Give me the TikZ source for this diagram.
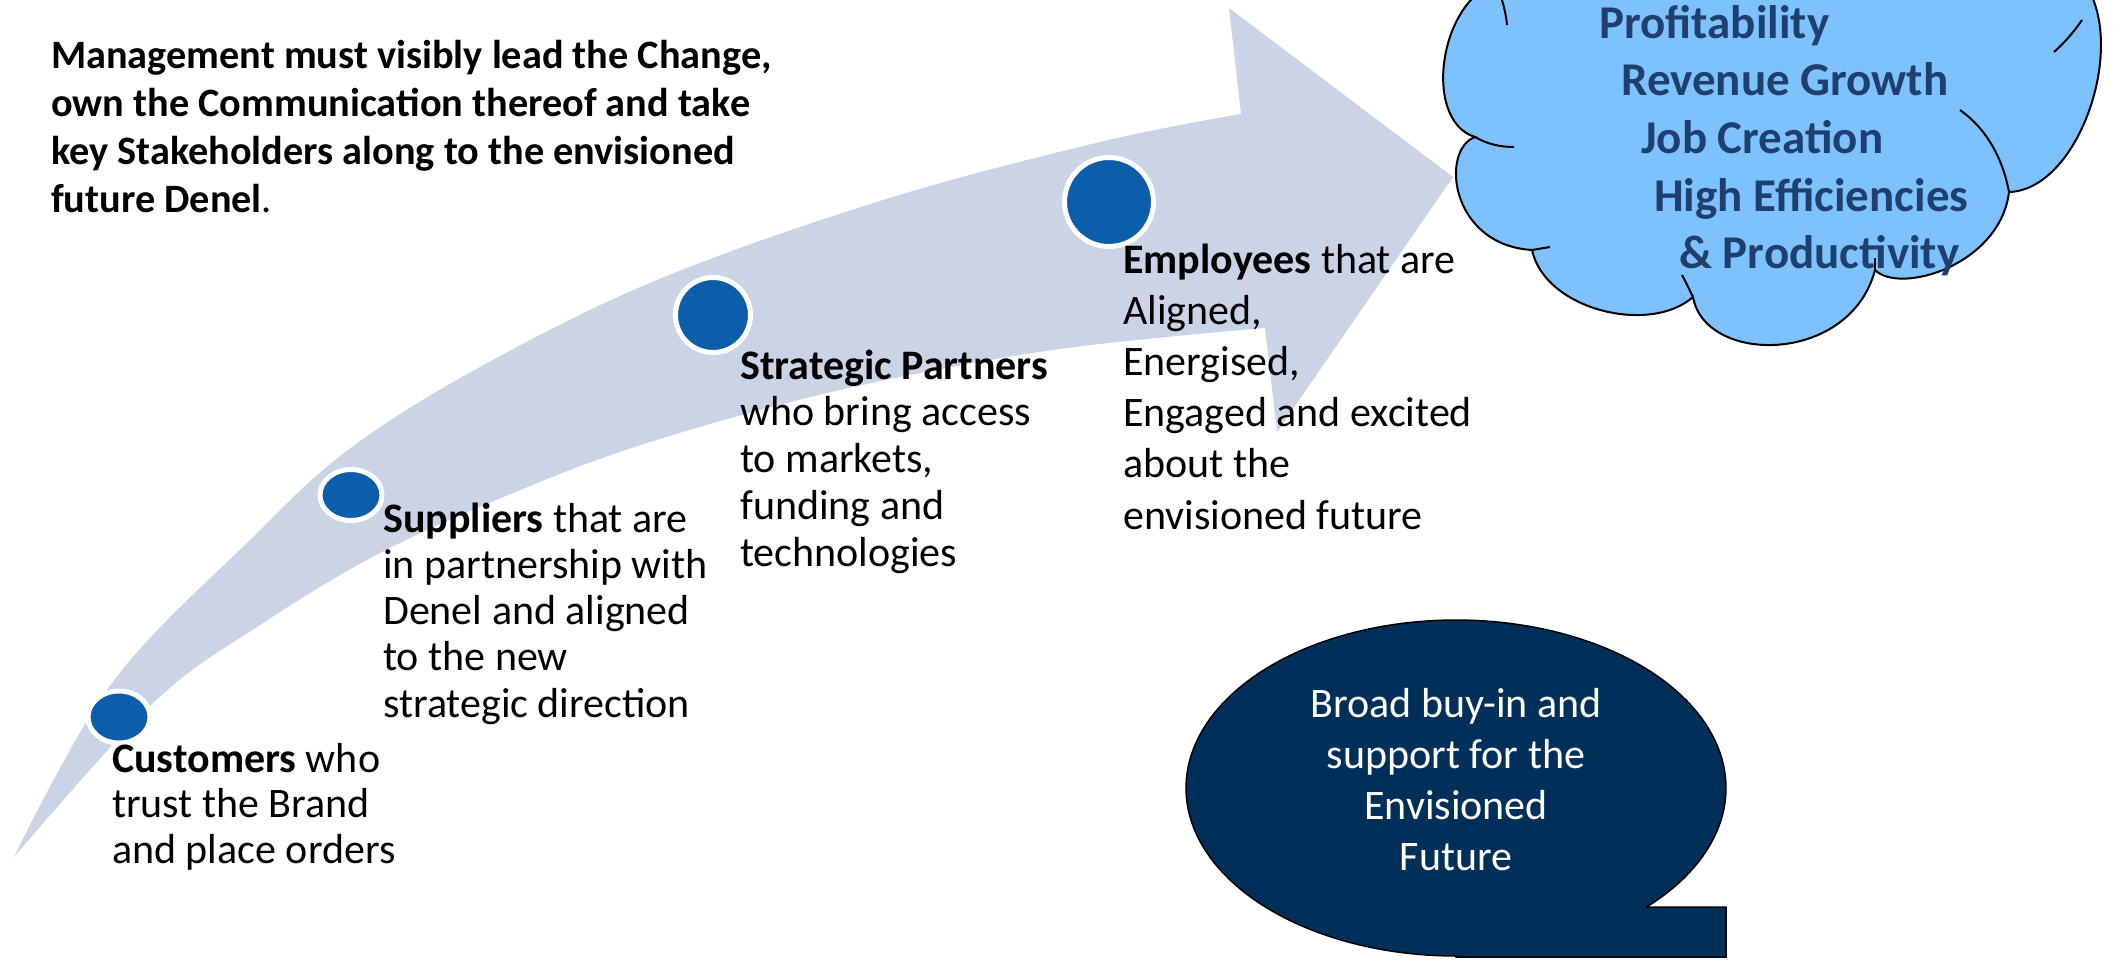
\documentclass[tikz,border=0pt]{standalone}
\usepackage{fontspec}
\setmainfont{Carlito}
\usetikzlibrary{shapes.geometric}
\definecolor{arrowgray}{RGB}{203,211,230}
\definecolor{dotblue}{RGB}{12,93,170}
\definecolor{cloudblue}{RGB}{125,194,254}
\definecolor{cloudtext}{RGB}{31,64,110}
\definecolor{navy}{RGB}{0,47,89}
\newcommand{\blocktext}[3]{\fontsize{#1}{#2}\selectfont\begin{tabular}[t]{@{}l@{}}#3\end{tabular}}
\newcommand{\blocktextc}[3]{\fontsize{#1}{#2}\selectfont\begin{tabular}[t]{@{}c@{}}#3\end{tabular}}
\tikzset{
  dot/.style={ellipse, fill=dotblue, draw=white, line width=5pt, inner sep=0pt},
  txt/.style={inner sep=0pt, anchor=base west},
  cloudline/.style={draw=black, line width=2pt},
}
\begin{document}
\begin{tikzpicture}[x=1pt,y=-1pt]
\useasboundingbox (0,0) rectangle (2113,959);
\fill[white] (0,0) rectangle (2113,959);

% curved arrow
\fill[arrowgray] plot[smooth, tension=0.6] coordinates {(14,857) (112,683) (250,540) (348,450) (480,367) (657,280) (883,200) (1100,142) (1241,114)}
  -- (1229,8) -- (1453,177) -- (1277,432) -- (1265,328)
  -- plot[smooth, tension=0.6] coordinates {(1265,328) (1053,350) (840,390) (647,443) (513,493) (380,553) (260,625) (153,703) (14,857)} -- cycle;

% dots
\node[dot, minimum width=62pt, minimum height=52pt] (cdot) at (119,717) {};
\node[dot, minimum width=62pt, minimum height=51pt] (sdot) at (351,495) {};
\node[dot, minimum width=75pt, minimum height=75pt] (pdot) at (713,315) {};
\node[dot, minimum width=89pt, minimum height=89pt] (edot) at (1109,202) {};

% title
\node[txt] (title) at (51,68) {\blocktext{40.3}{48}{\textbf{Management must visibly lead the Change,}\\\textbf{own the Communication thereof and take}\\\textbf{key Stakeholders along to the envisioned}\\\textbf{future Denel}.}};

% stakeholder texts
\node[txt] (cust) at (112,772) {\blocktext{42}{45.5}{\textbf{Customers} who\\trust the Brand\\and place orders}};
\node[txt] (supp) at (383,532) {\blocktext{42}{46.3}{\textbf{Suppliers} that are\\in partnership with\\Denel and aligned\\to the new\\strategic direction}};
\node[txt] (part) at (740,379) {\blocktext{42}{46.8}{\textbf{Strategic Partners}\\who bring access\\to markets,\\funding and\\technologies}};
\node[txt] (empl) at (1123,273) {\blocktext{42}{51.2}{\textbf{Employees} that are\\Aligned,\\Energised,\\Engaged and excited\\about the\\envisioned future}};

% cloud
\fill[cloudblue] (1506,-20) .. controls (1440,-10) and (1420,120) .. (1475,137)
  .. controls (1440,150) and (1450,245) .. (1532,250)
  .. controls (1545,310) and (1650,335) .. (1693,297)
  .. controls (1705,365) and (1850,365) .. (1875,270)
  .. controls (1900,295) and (2000,265) .. (2009,192)
  .. controls (2080,190) and (2130,40) .. (2082,-20) -- cycle;
\draw[cloudline] (1506,-20) .. controls (1440,-10) and (1420,120) .. (1475,137)
  .. controls (1440,150) and (1450,245) .. (1532,250)
  .. controls (1545,310) and (1650,335) .. (1693,297)
  .. controls (1705,365) and (1850,365) .. (1875,270)
  .. controls (1900,295) and (2000,265) .. (2009,192)
  .. controls (2080,190) and (2130,40) .. (2082,-20);
% inner arcs of the cloud
\draw[cloudline] (1500,-5) .. controls (1504,5) and (1506,15) .. (1507,25);
\draw[cloudline] (1475,137) .. controls (1487,144) and (1500,147) .. (1514,147);
\draw[cloudline] (1532,250) .. controls (1538,249) and (1544,248) .. (1550,247);
\draw[cloudline] (1693,297) .. controls (1689,289) and (1686,282) .. (1682,275);
\draw[cloudline] (1875,270) .. controls (1875,266) and (1875,262) .. (1875,258);
\draw[cloudline] (2009,192) .. controls (2003,160) and (1988,130) .. (1960,110);
\draw[cloudline] (2082,20) .. controls (2074,32) and (2064,43) .. (2054,52);

\node[txt, text=cloudtext] (goals) at (1599,38) {\blocktext{47}{57.7}{\textbf{Profitability}\\\hspace*{22pt}\textbf{Revenue Growth}\\\hspace*{42pt}\textbf{Job Creation}\\\hspace*{55pt}\textbf{High Efficiencies}\\\hspace*{80pt}\textbf{\& Productivity}}};

% speech bubble
\draw[fill=navy, draw=black, line width=1.5pt] (1647,907) -- (1726,907) -- (1726,957) -- (1456,957)
  -- plot[domain=90:405, samples=150, variable=\t] ({1456+270*cos(\t)},{788+168*sin(\t)}) -- cycle;
\node[inner sep=0pt, anchor=base, text=white] (buyin) at (1456,717) {\blocktextc{42}{51}{Broad buy-in and\\support for the\\Envisioned\\Future}};
\end{tikzpicture}
\end{document}
